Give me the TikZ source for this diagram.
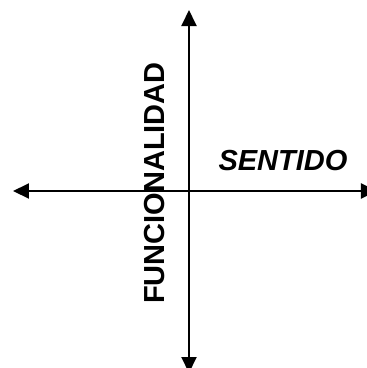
\documentclass[tikz,border=0pt]{standalone}
\usepackage{fontspec}
\setmainfont{Liberation Sans}
\usetikzlibrary{arrows.meta}
\begin{document}
\begin{tikzpicture}[x=1pt,y=-1pt,
  axis/.style={line width=2pt,{Triangle[length=16pt,width=15pt]}-{Triangle[length=16pt,width=15pt]}},
  lbl/.style={inner sep=0pt,font=\fontsize{29}{30}\selectfont\bfseries}]
\useasboundingbox (0,0) rectangle (367,368);
\coordinate (l) at (13,191);
\coordinate (r) at (377,191);
\coordinate (t) at (189,10);
\coordinate (b) at (189,373);
\draw[axis] (l) -- (r);
\draw[axis] (t) -- (b);
\node[lbl,rotate=90] (fun) at (155,183) {FUNCIONALIDAD};
\node[lbl,font=\fontsize{29}{30}\selectfont\bfseries\itshape] (sen) at (283,161) {SENTIDO};
\end{tikzpicture}
\end{document}
